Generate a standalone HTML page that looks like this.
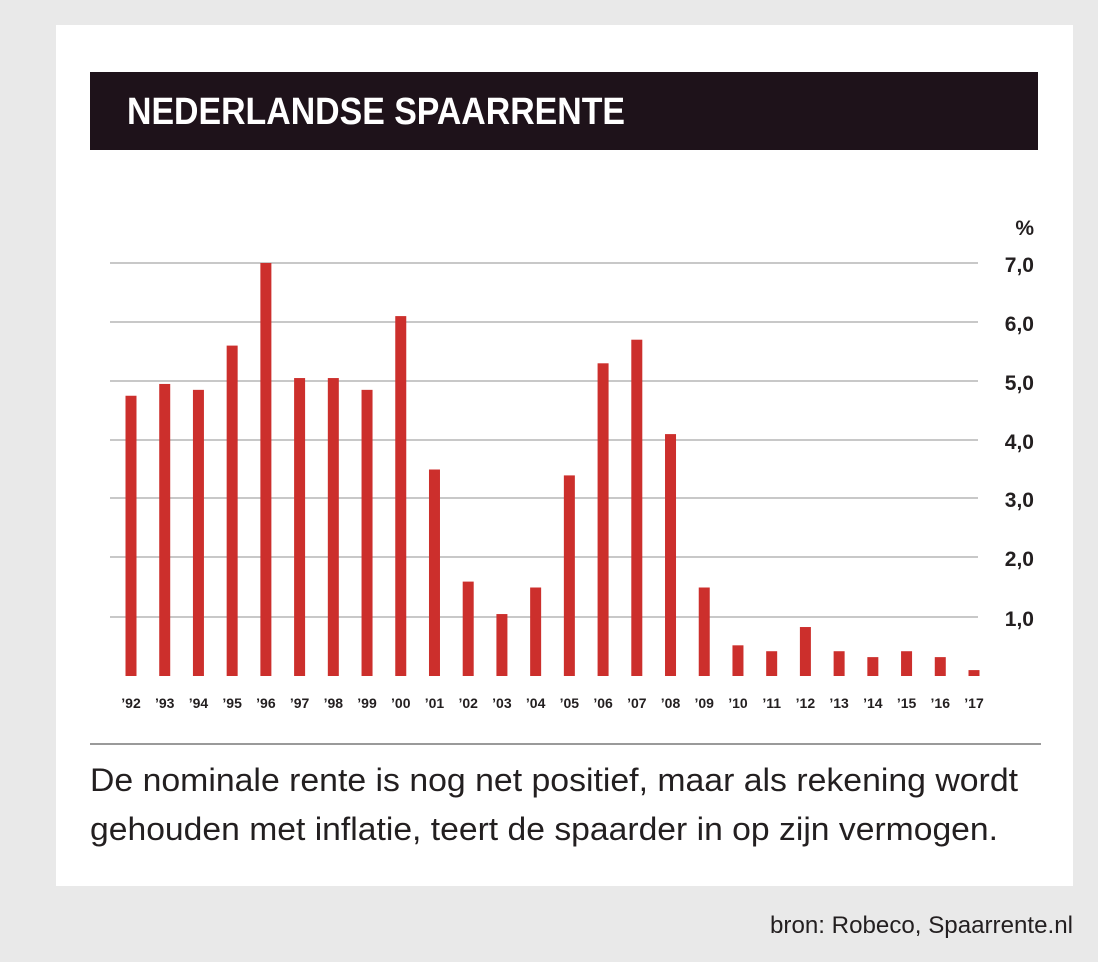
<!DOCTYPE html>
<html><head><meta charset="utf-8"><style>
html,body{margin:0;padding:0;background:#e9e9e9;}
body{width:1098px;height:962px;overflow:hidden;}
svg{display:block;}
</style></head><body>
<svg width="1098" height="962" xmlns="http://www.w3.org/2000/svg" font-family="'Liberation Sans Narrow','Liberation Sans',sans-serif">
<rect x="0" y="0" width="1098" height="962" fill="#e9e9e9"/>
<rect x="56" y="25" width="1017" height="861" fill="#ffffff"/>
<rect x="90" y="72" width="948" height="78" fill="#1e121a"/>
<text x="127" y="124" fill="#fff" font-size="38" font-weight="bold" textLength="498" lengthAdjust="spacingAndGlyphs">NEDERLANDSE SPAARRENTE</text>
<g stroke="#c8c8c8" stroke-width="2">
<line x1="110" x2="978" y1="263" y2="263"/>
<line x1="110" x2="978" y1="322" y2="322"/>
<line x1="110" x2="978" y1="381" y2="381"/>
<line x1="110" x2="978" y1="440" y2="440"/>
<line x1="110" x2="978" y1="498" y2="498"/>
<line x1="110" x2="978" y1="557" y2="557"/>
<line x1="110" x2="978" y1="617" y2="617"/>
</g>
<g fill="#231f20" font-size="21" font-weight="bold" text-anchor="end">
<text x="1034" y="235">%</text>
<text x="1034" y="272">7,0</text>
<text x="1034" y="331">6,0</text>
<text x="1034" y="390">5,0</text>
<text x="1034" y="449">4,0</text>
<text x="1034" y="507">3,0</text>
<text x="1034" y="566">2,0</text>
<text x="1034" y="626">1,0</text>
</g>
<g id="bars" fill="#cc2f2c"></g>
<g id="labs" fill="#231f20" font-size="14" font-weight="bold" text-anchor="middle"></g>
<line x1="90" x2="1041" y1="744" y2="744" stroke="#9a9a9a" stroke-width="2"/>
<g fill="#231f20" font-size="32">
<text x="90" y="791" textLength="928" lengthAdjust="spacingAndGlyphs">De nominale rente is nog net positief, maar als rekening wordt</text>
<text x="90" y="840" textLength="908" lengthAdjust="spacingAndGlyphs">gehouden met inflatie, teert de spaarder in op zijn vermogen.</text>
</g>
<text x="770" y="933" fill="#231f20" font-size="24" textLength="303" lengthAdjust="spacingAndGlyphs">bron: Robeco, Spaarrente.nl</text>
</svg>
<script>
var v=[4.75,4.95,4.85,5.6,7.0,5.05,5.05,4.85,6.1,3.5,1.6,1.05,1.5,3.4,5.3,5.7,4.1,1.5,0.52,0.42,0.83,0.42,0.32,0.42,0.32,0.1];
var ns="http://www.w3.org/2000/svg",b=document.getElementById('bars'),l=document.getElementById('labs');
var y0=676,s=59;
for(var i=0;i<v.length;i++){var cx=131+i*33.72;
var r=document.createElementNS(ns,'rect');r.setAttribute('x',cx-5.5);r.setAttribute('width',11);
r.setAttribute('y',y0-v[i]*s);r.setAttribute('height',v[i]*s);b.appendChild(r);
var t=document.createElementNS(ns,'text');t.setAttribute('x',cx);t.setAttribute('y',708);
var yr=(92+i)%100;t.textContent="\u2019"+(yr<10?"0"+yr:yr);l.appendChild(t);}
</script>
</body></html>
